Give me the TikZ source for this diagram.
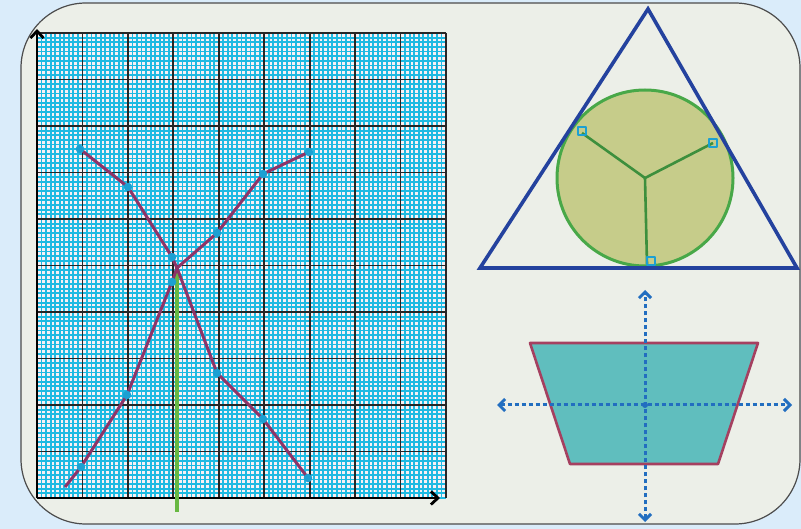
\documentclass[tikz,border=0pt]{standalone}
\usepackage{tikz}
\usetikzlibrary{arrows.meta}
\definecolor{qsky}{RGB}{218,236,250}
\definecolor{qpanel}{RGB}{236,239,232}
\definecolor{qpaper}{RGB}{248,240,244}
\definecolor{qcyan}{RGB}{30,186,226}
\definecolor{qdot}{RGB}{28,160,210}
\definecolor{qplum}{RGB}{142,52,104}
\definecolor{qgreen}{RGB}{104,184,66}
\definecolor{qnavy}{RGB}{36,66,158}
\definecolor{qkhaki}{RGB}{198,204,138}
\definecolor{qleaf}{RGB}{72,168,72}
\definecolor{qteal}{RGB}{96,190,190}
\definecolor{qrose}{RGB}{165,64,96}
\definecolor{qdash}{RGB}{34,110,192}

\begin{document}
\begin{tikzpicture}[x=1pt,y=-1pt,line join=round,
  minor/.style={qcyan,line width=1.8},
  major/.style={black!85,line width=1.8},
  curve/.style={qplum,line width=3},
  radius line/.style={qleaf!85!black,line width=2.6},
  tick mark/.style={qdot,line width=1.6},
  sym axis/.style={qdash,line width=3,dash pattern=on 4pt off 3pt,
                   {Straight Barb[length=6pt,width=12pt]}-{Straight Barb[length=6pt,width=12pt]}}]
  % background and panel
  \fill[qsky] (0,0) rectangle (801,529);
  \useasboundingbox (0,0) rectangle (801,529);
  \draw[black!70,line width=1.2,fill=qpanel,rounded corners=65pt] (21,3) rectangle (800,524);
  % graph paper
  \fill[qpaper] (37,33) rectangle (446,498);
  \foreach \i in {0,...,90} {\draw[minor] ({37+\i*4.544},33) -- ({37+\i*4.544},498);}
  \foreach \j in {0,...,100} {\draw[minor] (37,{33+\j*4.65}) -- (446,{33+\j*4.65});}
  \foreach \i in {1,...,9} {\draw[major] ({37+\i*45.44},33) -- ({37+\i*45.44},498);}
  \foreach \j in {0,...,9} {\draw[major] (37,{33+\j*46.5}) -- (446,{33+\j*46.5});}
  % axes
  \coordinate (O) at (37,498); \coordinate (Ytop) at (37,29); \coordinate (Xend) at (440,498);
  \draw[line width=2.8,-{Straight Barb[length=7pt,width=13pt]}] (O) -- (Ytop);
  \draw[line width=2.8,-{Straight Barb[length=7pt,width=13pt]}] (O) -- (Xend);
  % green line through the crossing
  \coordinate (X) at (177,268); \coordinate (Xfoot) at (177,512);
  \draw[qgreen,line width=3.6] (X) -- (Xfoot);
  % the two curves
  \coordinate (a1) at (80,149); \coordinate (a2) at (128,187); \coordinate (a3) at (172,257);
  \coordinate (a4) at (217,373); \coordinate (a5) at (263,419); \coordinate (a6) at (308,478);
  \coordinate (b0) at (65,487); \coordinate (b1) at (81,467); \coordinate (b2) at (127,395);
  \coordinate (b3) at (172,282); \coordinate (b4) at (217,233); \coordinate (b5) at (263,174);
  \coordinate (b6) at (309,152);
  \draw[curve] (a1) -- (a2) -- (a3) -- (X) -- (a4) -- (a5) -- (a6);
  \draw[curve] (b0) -- (b1) -- (b2) -- (b3) -- (X) -- (b4) -- (b5) -- (b6);
  \foreach \p in {a1,a2,a3,a4,a5,a6,b1,b2,b3,b4,b5,b6} {\fill[qdot] (\p) circle[radius=4.3];}
  % triangle with its incircle
  \coordinate (T1) at (648,9); \coordinate (T2) at (480,268); \coordinate (T3) at (797,268);
  \coordinate (I) at (645,178);
  \draw[qleaf,fill=qkhaki,line width=3] (I) circle[radius=88];
  \coordinate (P1) at (582,133); \coordinate (P2) at (713,143); \coordinate (P3) at (647,264);
  \draw[radius line] (I) -- (P1); \draw[radius line] (I) -- (P2); \draw[radius line] (I) -- (P3);
  \draw[tick mark] (578,127) rectangle (586,135);
  \draw[tick mark] (709,139) rectangle (717,147);
  \draw[tick mark] (647,257) rectangle (655,265);
  \draw[qnavy,line width=3.6,line join=miter] (T1) -- (T2) -- (T3) -- cycle;
  % trapezium with its axes
  \draw[qrose,fill=qteal,line width=2.6] (530,343) -- (758,343) -- (718,464) -- (570,464) -- cycle;
  \coordinate (Vtop) at (645,290); \coordinate (Vbot) at (645,522);
  \coordinate (Hl) at (497,405); \coordinate (Hr) at (792,405);
  \draw[sym axis] (Vbot) -- (Vtop);
  \draw[sym axis] (Hl) -- (Hr);
  \fill[qdash] (645,405) circle[radius=3];
\end{tikzpicture}
\end{document}
